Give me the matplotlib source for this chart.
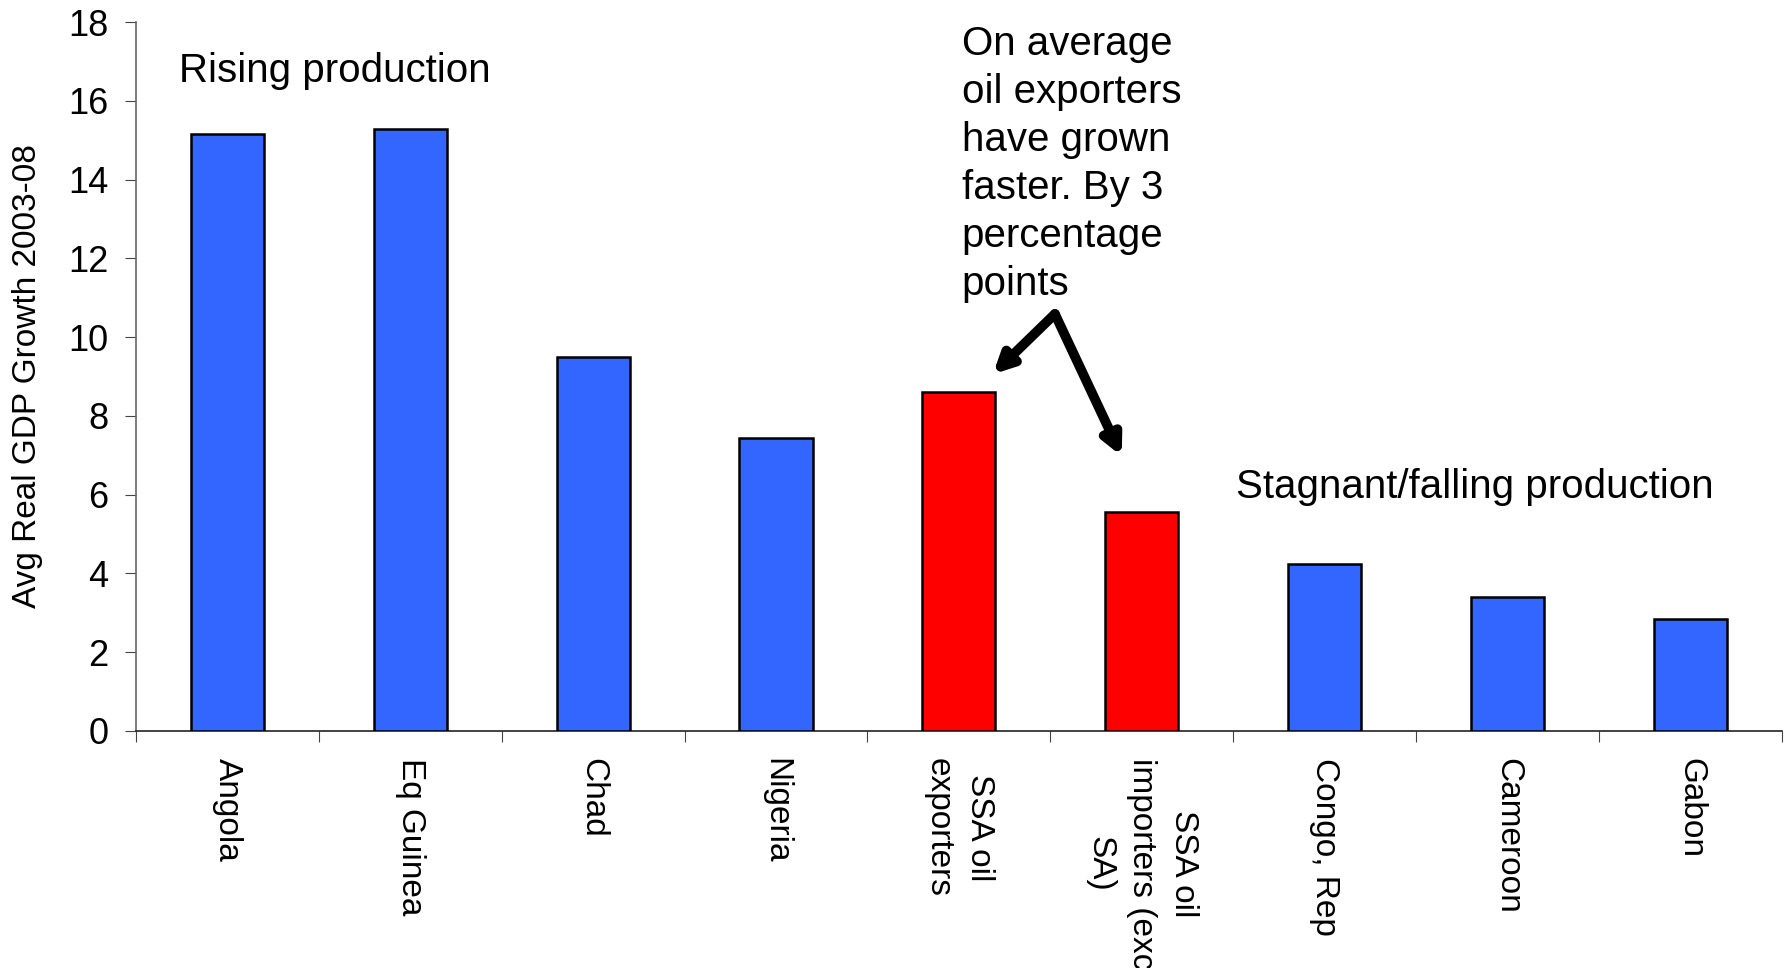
import matplotlib
matplotlib.use("Agg")
import matplotlib.pyplot as plt
import numpy as np

categories = ["Angola", "Eq Guinea", "Chad", "Nigeria", "SSA oil\nexporters",
              "SSA oil\nimporters (exc\nSA)", "Congo, Rep", "Cameroon", "Gabon"]
values = [15.15, 15.3, 9.5, 7.43, 8.6, 5.57, 4.25, 3.4, 2.83]
bar_colors = ["#3366FF", "#3366FF", "#3366FF", "#3366FF", "#FF0000",
              "#FF0000", "#3366FF", "#3366FF", "#3366FF"]
yticks = [0, 2, 4, 6, 8, 10, 12, 14, 16, 18]

plt.rcParams['font.family'] = ['Liberation Sans', 'DejaVu Sans']

fig = plt.figure(figsize=(17.89, 9.68), dpi=100)
ax = fig.add_axes([0.076, 0.245, 0.92, 0.732])

x = np.arange(len(categories))
ax.bar(x, values, width=0.4, color=bar_colors, edgecolor="black", linewidth=1.8, zorder=3)

ax.set_xlim(-0.5, len(categories) - 0.5)
ax.set_ylim(0, 18)
ax.set_yticks(yticks)
ax.set_yticklabels([str(t) for t in yticks], fontsize=26)

ax.set_xticks(np.arange(len(categories) + 1) - 0.5)
ax.set_xticklabels([])
ax.tick_params(axis='x', length=8, direction='out', color='#444444')
ax.tick_params(axis='y', length=8, direction='out', color='#444444', pad=12)

for i, lab in enumerate(categories):
    ax.text(i, -0.7, lab, rotation=-90, ha='center', va='top', fontsize=24,
            multialignment='center', linespacing=1.45)

for s in ['top', 'right']:
    ax.spines[s].set_visible(False)
ax.spines['left'].set_color('#666666')
ax.spines['bottom'].set_color('#222222')
ax.spines['left'].set_linewidth(1.2)
ax.spines['bottom'].set_linewidth(1.2)

ax.set_ylabel("Avg Real GDP Growth 2003-08", fontsize=24,
              family=['Liberation Sans Narrow', 'Liberation Sans', 'DejaVu Sans'], labelpad=18)

ax.text(-0.265, 16.75, "Rising production", fontsize=29, va='center', ha='left')
ax.text(4.016, 17.93, "On average\noil exporters\nhave grown\nfaster. By 3\npercentage\npoints",
        fontsize=29, va='top', ha='left', linespacing=1.33)
ax.text(5.514, 6.2, "Stagnant/falling production", fontsize=29, va='center', ha='left')

for end in [(4.186, 9.06), (4.89, 6.98)]:
    ax.annotate("", xy=end, xytext=(4.525, 10.59),
                arrowprops=dict(arrowstyle="-|>,head_length=1.1,head_width=0.55",
                                color="black", lw=7, shrinkA=0, shrinkB=0))

fig.savefig("out.png", dpi=100)
